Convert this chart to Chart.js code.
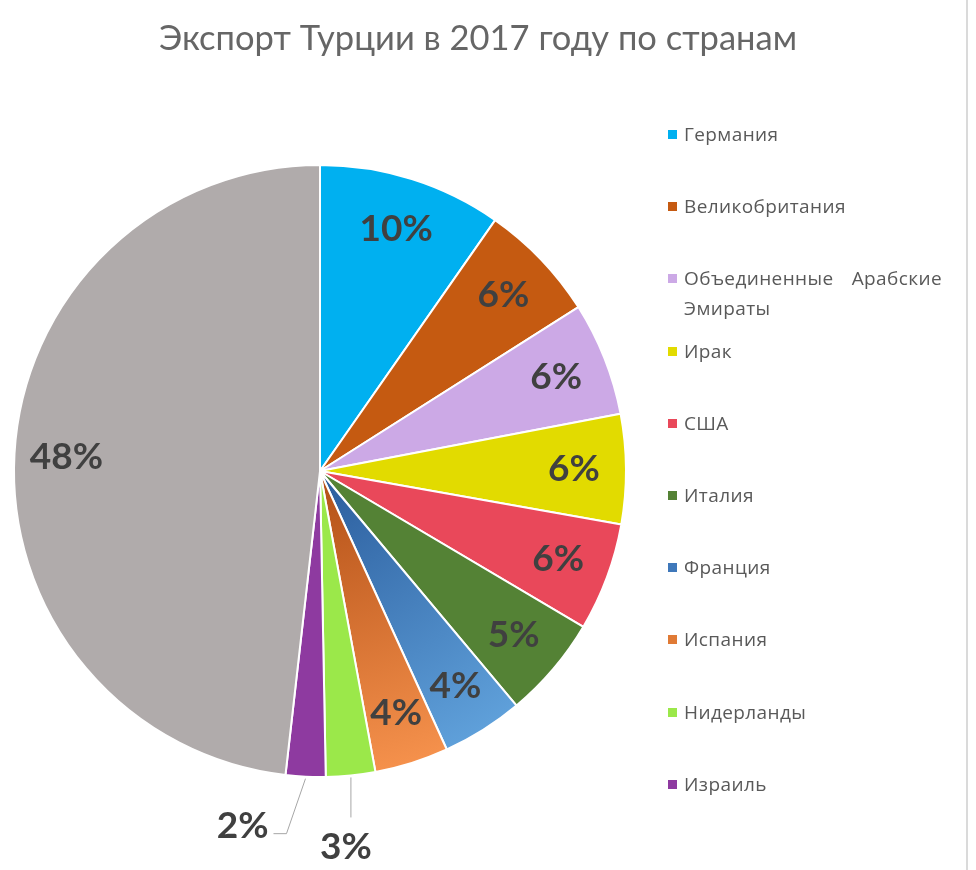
<!DOCTYPE html>
<html lang="ru">
<head>
<meta charset="utf-8">
<title>Экспорт Турции в 2017 году по странам</title>
<script src="https://cdn.jsdelivr.net/npm/chart.js@4.4.1/dist/chart.umd.min.js"></script>
<style>
  html, body { margin: 0; padding: 0; background: #fff; }
  #wrap { position: relative; width: 976px; height: 870px; overflow: hidden; }
  #edge { position: absolute; left: 966px; top: 0; width: 2px; height: 870px; background: #dadada; }
  #title {
    position: absolute; left: 0; width: 956px; top: 16px; text-align: center;
    font-family: Lato, "Open Sans", sans-serif; font-size: 34.5px; color: #666;
  }
  #legend { position: absolute; left: 668px; top: 0; }
  .item {
    position: absolute; left: 0; display: flex; align-items: flex-start;
    font-family: "Open Sans", "Noto Sans", sans-serif; font-size: 19px;
    letter-spacing: 0.4px; line-height: 30px; color: #595959;
  }
  .item .box { width: 9px; height: 9px; margin-top: 11px; margin-right: 7px; flex: none; }
  .item .txt { width: 258px; text-align: justify; }
  canvas { position: absolute; left: 0; top: 0; }
</style>
</head>
<body>
<div id="wrap">
  <canvas id="pie" width="976" height="870"></canvas>
  <div id="title">Экспорт Турции в 2017 году по странам</div>
  <div id="legend"></div>
  <div id="edge"></div>
</div>
<script>
// shares of Turkish exports, % (last one is the rest of the world, not in legend)
const countries = ['Германия', 'Великобритания', 'Объединенные Арабские Эмираты', 'Ирак', 'США',
  'Италия', 'Франция', 'Испания', 'Нидерланды', 'Израиль', 'Другие страны'];
const shares = [9.7, 6.3, 6.0, 5.8, 5.7, 5.4, 4.3, 3.9, 2.6, 2.1, 48.2];
const colors = ['#00b0f0', '#c55a11', '#cca9e6', '#e2db00', '#e9485a',
  '#548235', '#3f78ba', '#e07a35', '#9be84a', '#8e3aa0', '#b0abab'];
const legendCount = 10;

// two slices are shaded from dark (centre) to light (rim)
const shaded = {
  6: ['#2a5c9c', '#5fa0da'],
  7: ['#b24f16', '#f5914c']
};

// labels that sit outside with a leader line: offsets from the rim point
const outside = {
  8: { path: [[0, 40]], text: [-5, 70], align: 'center' },
  9: { path: [[-19, 55], [-32, 55]], text: [-37, 47], align: 'right' }
};

function sliceColor(ctx) {
  const i = ctx.dataIndex;
  const pair = shaded[i];
  const area = ctx.chart.chartArea;
  if (!pair || !area) return colors[i];
  const cx = (area.left + area.right) / 2;
  const cy = (area.top + area.bottom) / 2;
  const r = Math.min(area.right - area.left, area.bottom - area.top) / 2;
  const g = ctx.chart.ctx.createRadialGradient(cx, cy, 0, cx, cy, r);
  g.addColorStop(0, pair[0]);
  g.addColorStop(1, pair[1]);
  return g;
}

const pctLabels = {
  id: 'pctLabels',
  afterDatasetsDraw(chart) {
    const ctx = chart.ctx;
    const meta = chart.getDatasetMeta(0);
    const total = shares.reduce((a, b) => a + b, 0);
    ctx.save();
    ctx.font = 'bold 37px Lato, "Open Sans", sans-serif';
    ctx.fillStyle = '#404040';
    ctx.textBaseline = 'middle';
    meta.data.forEach((arc, i) => {
      const p = arc.getProps(['x', 'y', 'startAngle', 'endAngle', 'outerRadius'], true);
      const mid = (p.startAngle + p.endAngle) / 2;
      const txt = Math.round(shares[i] / total * 100) + '%';
      const o = outside[i];
      if (!o) {
        const r = p.outerRadius * 0.83;
        ctx.textAlign = 'center';
        ctx.fillText(txt, p.x + Math.cos(mid) * r, p.y + Math.sin(mid) * r);
        return;
      }
      const ex = p.x + Math.cos(mid) * (p.outerRadius + 2);
      const ey = p.y + Math.sin(mid) * (p.outerRadius + 2);
      ctx.strokeStyle = '#a6a6a6';
      ctx.lineWidth = 1;
      ctx.beginPath();
      ctx.moveTo(ex, ey);
      o.path.forEach(d => ctx.lineTo(ex + d[0], ey + d[1]));
      ctx.stroke();
      ctx.textAlign = o.align;
      ctx.fillText(txt, ex + o.text[0], ey + o.text[1]);
    });
    ctx.restore();
  }
};

new Chart(document.getElementById('pie'), {
  type: 'pie',
  data: {
    labels: countries,
    datasets: [{
      data: shares,
      backgroundColor: sliceColor,
      borderColor: '#ffffff',
      borderWidth: 2,
      hoverOffset: 0
    }]
  },
  options: {
    responsive: false,
    animation: false,
    layout: { padding: { left: 13, top: 164, right: 349, bottom: 92 } },
    plugins: {
      legend: { display: false },
      title: { display: false },
      tooltip: { enabled: false }
    }
  },
  plugins: [pctLabels]
});

// legend on the right, one row every ~72px
const legend = document.getElementById('legend');
for (let i = 0; i < legendCount; i++) {
  const row = document.createElement('div');
  row.className = 'item';
  row.style.top = (119 + i * 72.2) + 'px';
  const box = document.createElement('span');
  box.className = 'box';
  box.style.background = colors[i];
  const txt = document.createElement('span');
  txt.className = 'txt';
  txt.textContent = countries[i];
  row.appendChild(box);
  row.appendChild(txt);
  legend.appendChild(row);
}
</script>
</body>
</html>
